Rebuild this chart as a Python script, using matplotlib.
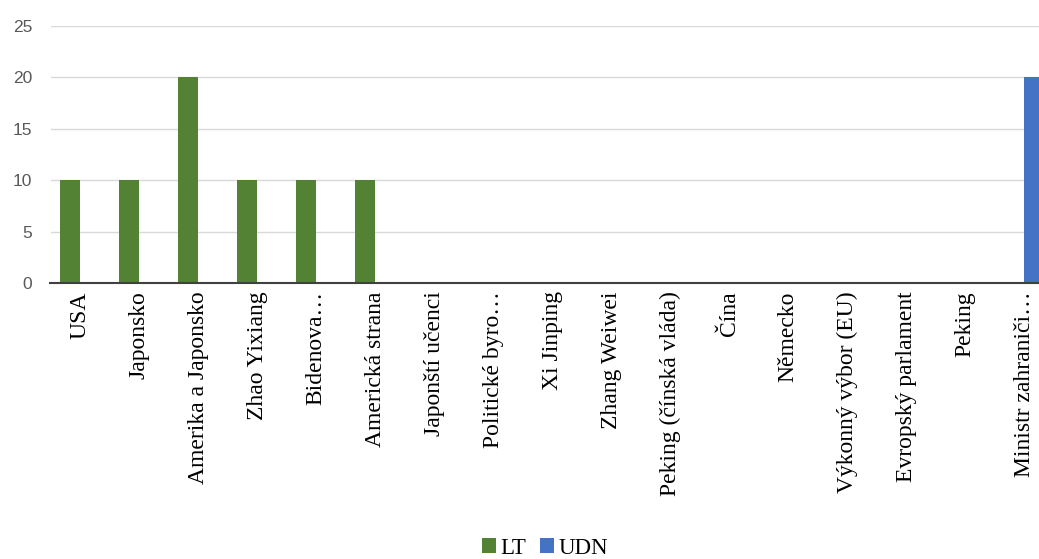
import matplotlib.pyplot as plt
import numpy as np

categories = ["USA", "Japonsko", "Amerika a Japonsko", "Zhao Yixiang", "Bidenova…",
              "Americká strana", "Japonští učenci", "Politické byro…", "Xi Jinping",
              "Zhang Weiwei", "Peking (čínská vláda)", "Čína", "Německo",
              "Výkonný výbor (EU)", "Evropský parlament", "Peking", "Ministr zahraniči…"]
lt = [10, 10, 20, 10, 10, 10, 0, 0, 0, 0, 0, 0, 0, 0, 0, 0, 0]
udn = [0, 0, 0, 0, 0, 0, 0, 0, 0, 0, 0, 0, 0, 0, 0, 0, 20]

fig = plt.figure(figsize=(10.39, 5.59), dpi=100)
# plot area runs off the right edge like in the original
ax = fig.add_axes([50.5 / 1039, (559 - 283) / 559, 1003 / 1039, 257 / 559])

x = np.arange(len(categories))
w = 0.34
ax.bar(x - w / 2, lt, w, color="#548235", label="LT", zorder=3)
ax.bar(x + w / 2, udn, w, color="#4472C4", label="UDN", zorder=3)

ax.set_xlim(-0.5, len(categories) - 0.5)
ax.set_ylim(0, 25)
ax.set_yticks(range(0, 26, 5))
ax.yaxis.grid(True, color="#d9d9d9", linewidth=1, zorder=0)
for s in ["top", "right", "left"]:
    ax.spines[s].set_visible(False)
ax.spines["bottom"].set_color("#404040")
ax.spines["bottom"].set_linewidth(1.5)
ax.spines["bottom"].set_zorder(4)
ax.tick_params(axis="y", length=0, pad=13, labelsize=12.5, labelcolor="#595959")
for t in ax.get_yticklabels():
    t.set_family("Liberation Sans")
ax.set_xticks(x)
ax.set_xticklabels(categories, rotation=90, fontsize=17, family="Liberation Serif",
                   va="top", ha="center")
ax.tick_params(axis="x", length=0, pad=6)

fig.legend(loc="center", bbox_to_anchor=(545 / 1039, 1 - 548 / 559), ncol=2,
           frameon=False, prop={"family": "Liberation Serif", "size": 16.5},
           handlelength=0.6, handleheight=0.6, handletextpad=0.2, columnspacing=0.6)

fig.savefig("out.png", dpi=100)
